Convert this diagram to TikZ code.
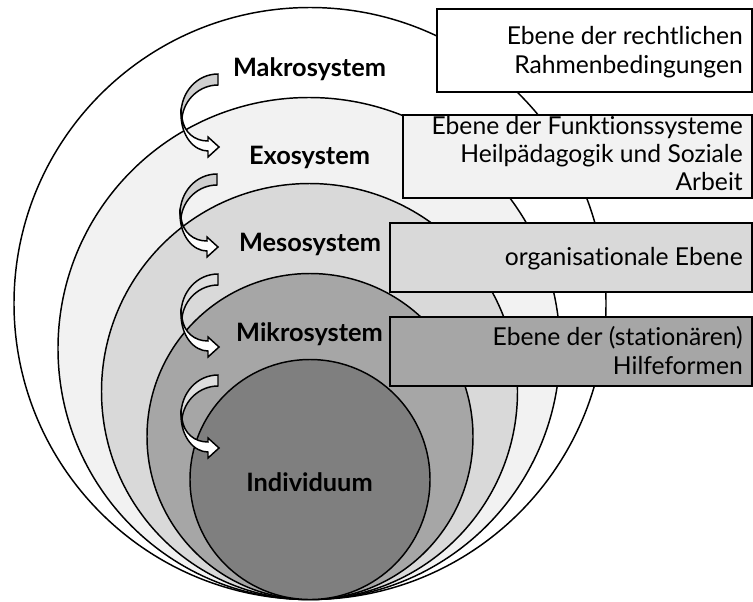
\documentclass[tikz,border=0pt]{standalone}
\usepackage{fontspec}
\setmainfont{Lato}[Ligatures={NoCommon}]
\usetikzlibrary{fit}
\definecolor{cExo}{HTML}{F2F2F2}
\definecolor{cMeso}{HTML}{D9D9D9}
\definecolor{cMikro}{HTML}{A6A6A6}
\definecolor{cInd}{HTML}{7F7F7F}
\definecolor{cBackA}{HTML}{CFCFCF}
\definecolor{cBackB}{HTML}{DEDEDE}
\tikzset{
  ring/.style={circle, draw=black, line width=1.1pt, inner sep=0pt, outer sep=0pt},
  lvl/.style={font=\fontsize{19}{22}\selectfont\bfseries, anchor=base, inner sep=0pt},
  boxstyle/.style={draw=black, line width=1.1pt, inner sep=0pt, outer sep=0pt},
  boxtext/.style={font=\fontsize{18.5}{21}\selectfont, anchor=base east, inner sep=0pt},
  arrowline/.style={draw=black, line width=1.1pt, line join=miter},
}
\newcommand\levelarrow[3]{%
  \begin{scope}[shift={(#1,#2)}]
    \path[arrowline, fill=#3] (0,0) .. controls (-21,0) and (-37,18) .. (-37,40)
      -- (-36,44) .. controls (-34,25) and (-18,11) .. (0,11) -- cycle;
    \path[arrowline, fill=white] (-37,40) .. controls (-37,62) and (-24,77) .. (-10,77)
      -- (-10,83) -- (1,73) -- (-10,63) -- (-10,67)
      .. controls (-24,67) and (-34,58) .. (-36,44) -- cycle;
  \end{scope}}
\begin{document}
\begin{tikzpicture}[x=0.75pt,y=-0.75pt]
  \useasboundingbox (0,0) rectangle (753,601);
  % nested circles
  \node[ring, fill=white,  minimum size=444pt]    (makro) at (310,303.5) {};
  \node[ring, fill=cExo,   minimum size=376.5pt]  (exo)   at (309,348.5) {};
  \node[ring, fill=cMeso,  minimum size=312pt]    (meso)  at (309.5,391.5) {};
  \node[ring, fill=cMikro, minimum size=244.5pt]  (mikro) at (310,436.5) {};
  \node[ring, fill=cInd,   minimum size=180pt]    (ind)   at (310,479.5) {};
  % boxes
  \node[boxstyle, fill=white,  fit={(437,9) (752,92)}]    (b1) {};
  \node[boxstyle, fill=cExo,   fit={(403,115) (752,198)}] (b2) {};
  \node[boxstyle, fill=cMeso,  fit={(390,223) (752,292)}] (b3) {};
  \node[boxstyle, fill=cMikro, fit={(390,317) (752,386)}] (b4) {};
  % box texts
  \node[boxtext] (t1a) at (743,44)  {Ebene der rechtlichen};
  \node[boxtext] (t1b) at (743,73)  {Rahmenbedingungen};
  \node[boxtext] (t2a) at (743,134) {Ebene der Funktionssysteme};
  \node[boxtext] (t2b) at (743,162) {Heilpädagogik und Soziale};
  \node[boxtext] (t2c) at (743,190) {Arbeit};
  \node[boxtext] (t3a) at (743,265) {organisationale Ebene};
  \node[boxtext] (t4a) at (743,345) {Ebene der (stationären)};
  \node[boxtext] (t4b) at (743,374) {Hilfeformen};
  % level labels
  \node[lvl] (lmakro) at (309.5,76)  {Makrosystem};
  \node[lvl] (lexo)   at (309.5,164) {Exosystem};
  \node[lvl] (lmeso)  at (310,251)   {Mesosystem};
  \node[lvl] (lmikro) at (309.5,341) {Mikrosystem};
  \node[lvl] (lind)   at (309.5,491) {Individuum};
  % curved arrows
  \levelarrow{218}{74}{cBackA}
  \levelarrow{217}{174}{cBackA}
  \levelarrow{218}{274}{cBackB}
  \levelarrow{218}{375}{cBackB}
\end{tikzpicture}
\end{document}
